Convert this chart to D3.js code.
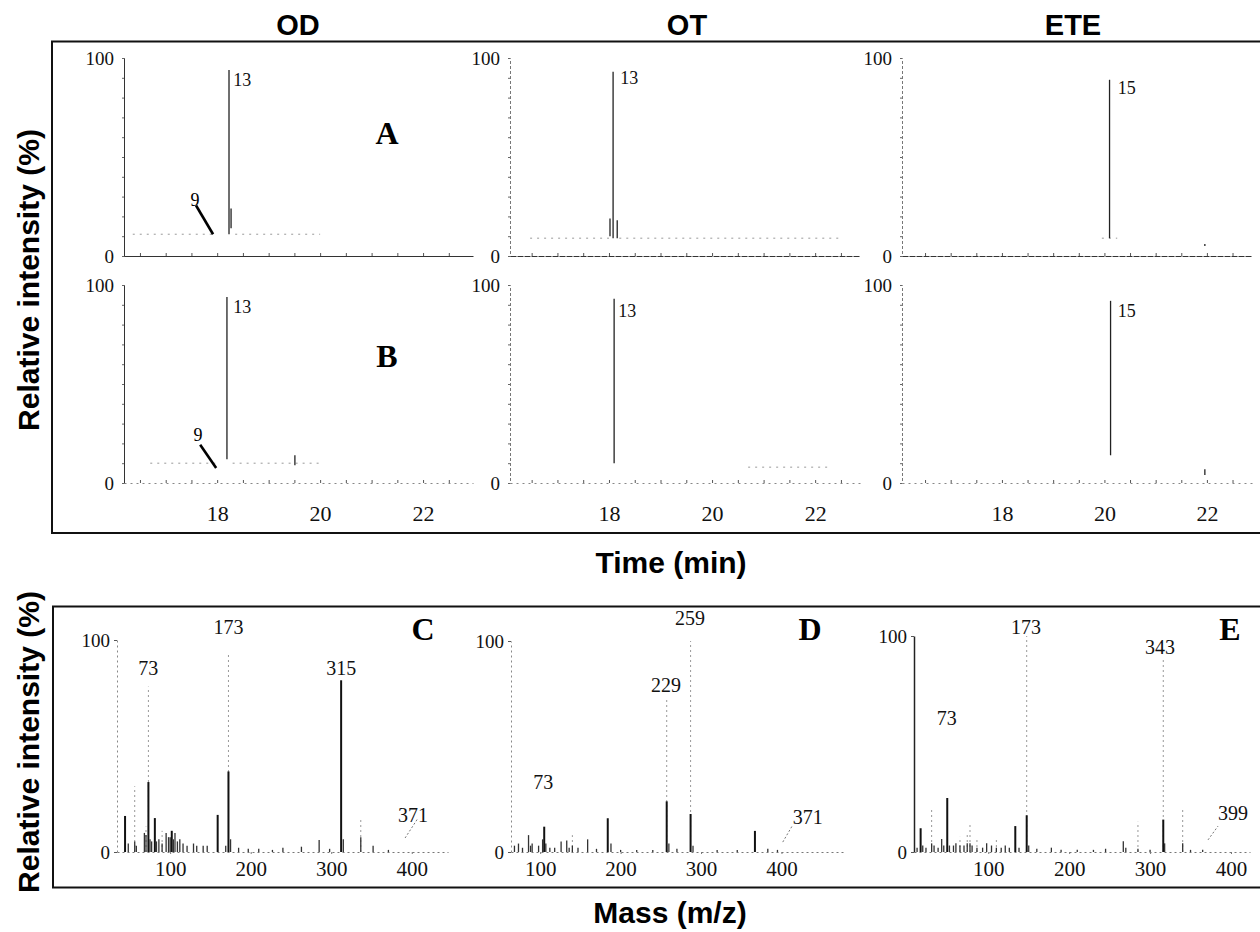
<!DOCTYPE html>
<html><head><meta charset="utf-8">
<script src="https://cdn.jsdelivr.net/npm/d3@7"></script>
<style>
body{margin:0;background:#fff;}
svg{display:block;background:#fff;}
</style></head><body><svg id="c" width="1260" height="932"></svg>
<script>
// ---------------- DATA ----------------
const columnTitles = ["OD", "OT", "ETE"];
const rowLetters = ["A", "B"];
const spectrumLetters = ["C", "D", "E"];
const timeTickLabels = [18, 20, 22];
const timeMinorTicks = [16.5, 17, 17.5, 18, 18.5, 19, 19.5, 20, 20.5, 21, 21.5, 22, 22.5];
const massTickLabels = [100, 200, 300, 400];
const intensityTickLabels = [0, 100];

// chromatogram peaks: [time (min), top %, base %]
const odA_peaks = [[18.23, 94, 11], [18.27, 24, 14]];
const odB_peaks = [[18.19, 94, 12], [19.51, 14, 9]];
const otA_peaks = [[18.08, 93, 9], [18.02, 19, 10], [18.16, 18, 9]];
const otB_peaks = [[18.10, 93, 10]];
const eteA_peaks = [[20.10, 89, 9], [21.96, 6, 5]];
const eteB_peaks = [[20.12, 92, 14], [21.96, 7, 4]];

// faint raised baselines: [start time, end time, %]
const odA_base = [[16.36, 17.95, 11], [18.35, 20.0, 11]];
const odB_base = [[16.70, 18.05, 10], [18.30, 20.0, 10]];
const otA_base = [[16.47, 18.0, 9], [18.2, 22.49, 9]];
const otB_base = [[20.70, 22.24, 8]];
const eteA_base = [[19.95, 20.25, 9]];
const eteB_base = [];

// chromatogram peak labels: [time, %, text]
const odA_labels = [[18.31, 89, "13"]];
const odB_labels = [[18.31, 89, "13"]];
const otA_labels = [[18.22, 90, "13"]];
const otB_labels = [[18.18, 87, "13"]];
const eteA_labels = [[20.26, 85, "15"]];
const eteB_labels = [[20.26, 87, "15"]];

// "9" arrows: [label t, label %, from t, from %, to t, to %]
const odA_arrow = [17.57, 28.3, 17.59, 25.5, 17.92, 11];
const odB_arrow = [17.63, 24.4, 17.67, 19.3, 17.98, 7.6];

// mass spectra peaks: [m/z, solid %, faint %]
const specC = [[44,17,0],[48,4,0],[56,5,31],[58,3,0],[68,9,0],[70,8,12],[73,33,78],[75,6,0],[77,5,0],
  [81,16,0],[83,5,0],[86,6,0],[90,4,10],[95,9,0],[98,7,0],[100,7,0],[102,10,0],[104,6,0],[106,9,0],
  [109,5,0],[112,6,0],[116,4,0],[121,3,0],[129,4,0],[133,3,0],[141,3,0],[146,3,0],[159,17.5,0],
  [169,3,0],[172.4,38,94],[175,6,0],[185,2,0],[197,1.5,0],[210,1.5,0],[227,1,0],[240,2,0],[263,2.5,0],
  [285,5.7,0],[298,1.5,0],[312.3,81,81],[315,6,0],[336.7,7,16],[352,3,0],[371,1,0]];
const specD = [[68,3,0],[73,4,0],[78,2,0],[85.5,8,0],[88,3,0],[90,4,0],[98,3,0],[103,6,0],[105,12,0],
  [107,4,0],[112,2,0],[118,2,0],[126,5,0],[133,5.5,0],[136,2,0],[140,3,8],[147,2,0],[159,6,0],[170,1.5,0],
  [184,16,0],[188,4,0],[200,1,0],[220,1,0],[240,1,0],[257.3,24,73],[260,4,0],[270,1.5,0],[287,18,100],
  [290,3,0],[320,1,0],[345,1,0],[367,10,0],[383,1.5,0],[395,1,0]];
const specE = [[12,2,0],[16.4,11,0],[19,3,0],[23,2,0],[30,4,19.5],[33,3,0],[38,2,0],[42.4,6,0],[45,3,0],
  [49.3,25,25],[52,3,0],[57,3,0],[60,4,0],[65,3,7],[70,3,0],[74,4,8],[77.4,4,13],[80,3,0],[86,2,6],
  [93,2,0],[98,4,0],[104,3,0],[110,2,6],[116,2,0],[121,3,0],[126,2,0],[133.4,12,0],[138,2,0],
  [147.5,17,100],[150,3,0],[160,1.5,0],[178,2,0],[190,1,0],[210,1,0],[230,1,0],[245,1.5,0],[266.9,5,0],
  [270,2,0],[285,1.5,14],[300,1,0],[316.3,15,90],[318,4,0],[340.3,4,20],[350,1,0],[365,1,0]];

// spectra labels: [m/z, %, text]
const specC_labels = [[72.7, 87, "73"], [172.4, 106, "173"], [312.3, 87, "315"], [401.6, 17.5, "371"]];
const specD_labels = [[103.8, 33, "73"], [256.4, 79, "229"], [286.2, 111, "259"], [432.6, 16.6, "371"]];
const specE_labels = [[48.6, 62, "73"], [146.6, 104, "173"], [312.2, 95, "343"], [402.5, 18, "399"]];
// leader lines: [from m/z, from %, to m/z, to %]
const specC_leader = [391.7, 6.6, 407.8, 16];
const specD_leader = [401.6, 4.7, 414.0, 12.8];
const specE_leader = [371.6, 5.6, 384.0, 12];

// ---------------- LAYOUT ----------------
const svg = d3.select("#c");
const SERIF = "'Liberation Serif','Times New Roman',serif";
const SANS = "'Liberation Sans',Arial,sans-serif";

svg.append("rect").attr("x", 52).attr("y", 41.5).attr("width", 1220).attr("height", 491.5)
  .attr("fill", "none").attr("stroke", "#111").attr("stroke-width", 2);
svg.append("rect").attr("x", 53).attr("y", 606.5).attr("width", 1220).attr("height", 281)
  .attr("fill", "none").attr("stroke", "#111").attr("stroke-width", 2);

const titleX = [298, 687, 1073];
columnTitles.forEach((t, i) => svg.append("text").attr("x", titleX[i]).attr("y", 25)
  .attr("text-anchor", "middle").attr("dominant-baseline", "central")
  .attr("font-family", SANS).attr("font-weight", "bold").attr("font-size", 29).text(t));

function bigLabel(txt, x, y, rot) {
  svg.append("text").attr("transform", `translate(${x},${y})` + (rot ? " rotate(-90)" : ""))
    .attr("text-anchor", "middle").attr("dominant-baseline", "central")
    .attr("font-family", SANS).attr("font-weight", "bold").attr("font-size", 30).text(txt);
}
bigLabel("Relative intensity (%)", 28, 280, true);
bigLabel("Relative intensity (%)", 28, 742, true);
bigLabel("Time (min)", 671, 562, false);
bigLabel("Mass (m/z)", 670, 912, false);

// ---------------- CHROMATOGRAMS ----------------
const chromCols = [
  {xr: [124, 473], dom: [16.19, 22.97], dashed: false},
  {xr: [510, 860], dom: [16.08, 22.87], dashed: true},
  {xr: [902, 1252], dom: [16.05, 22.88], dashed: true}
];
const chromRows = [{yr: [256, 58]}, {yr: [483, 285]}];
const chromData = [
  [{peaks: odA_peaks, base: odA_base, labels: odA_labels, arrow: odA_arrow},
   {peaks: odB_peaks, base: odB_base, labels: odB_labels, arrow: odB_arrow}],
  [{peaks: otA_peaks, base: otA_base, labels: otA_labels},
   {peaks: otB_peaks, base: otB_base, labels: otB_labels}],
  [{peaks: eteA_peaks, base: eteA_base, labels: eteA_labels},
   {peaks: eteB_peaks, base: eteB_base, labels: eteB_labels}]
];

chromCols.forEach((col, ci) => {
  chromRows.forEach((row, ri) => {
    const d = chromData[ci][ri];
    const x = d3.scaleLinear().domain(col.dom).range(col.xr);
    const y = d3.scaleLinear().domain([0, 100]).range(row.yr);
    const g = svg.append("g");

    // y axis
    const ya = g.append("g").attr("transform", `translate(${col.xr[0]},0)`)
      .call(d3.axisLeft(y).tickValues([0, 10, 20, 30, 40, 50, 60, 70, 80, 90, 100]).tickSize(2).tickPadding(8)
        .tickFormat(v => intensityTickLabels.includes(v) ? v : ""));
    ya.select(".domain").attr("stroke", col.dashed ? "#777" : "#333").attr("stroke-width", 1)
      .attr("stroke-dasharray", col.dashed ? "3,2" : null);
    ya.selectAll(".tick line").attr("stroke", "#666");
    ya.selectAll("text").attr("font-family", SERIF).attr("font-size", 19).attr("fill", "#111");

    // x axis
    const xa = g.append("g").attr("transform", `translate(0,${row.yr[0]})`)
      .call(d3.axisBottom(x).tickValues(timeMinorTicks).tickSize(-3).tickSizeOuter(0)
        .tickFormat(v => (ri === 1 && timeTickLabels.includes(v)) ? v : ""));
    xa.select(".domain").attr("stroke", ri === 0 ? "#333" : "#888").attr("stroke-width", 1)
      .attr("stroke-dasharray", ri === 0 ? (ci === 0 ? null : "6,1") : "2,4");
    xa.selectAll(".tick line").attr("stroke", "#555");
    xa.selectAll("text").attr("font-family", SERIF).attr("font-size", 22).attr("fill", "#111")
      .attr("y", 22).attr("dy", "0.71em");

    // faint baselines
    d.base.forEach(b => g.append("line")
      .attr("x1", x(b[0])).attr("x2", x(b[1])).attr("y1", y(b[2])).attr("y2", y(b[2]))
      .attr("stroke", "#999").attr("stroke-width", 1).attr("stroke-dasharray", "2,5"));

    // peaks
    g.selectAll("line.pk").data(d.peaks).join("line").attr("class", "pk")
      .attr("x1", p => x(p[0])).attr("x2", p => x(p[0]))
      .attr("y1", p => y(p[1])).attr("y2", p => y(p[2]))
      .attr("stroke", "#222").attr("stroke-width", 1.3);

    // labels
    g.selectAll("text.pl").data(d.labels).join("text").attr("class", "pl")
      .attr("x", l => x(l[0])).attr("y", l => y(l[1])).attr("dy", "0.35em")
      .attr("font-family", SERIF).attr("font-size", 18).attr("fill", "#111").text(l => l[2]);

    if (d.arrow) {
      const a = d.arrow;
      g.append("text").attr("x", x(a[0])).attr("y", y(a[1])).attr("text-anchor", "middle")
        .attr("dominant-baseline", "central")
        .attr("font-family", SERIF).attr("font-size", 18).text("9");
      g.append("line").attr("x1", x(a[2])).attr("y1", y(a[3])).attr("x2", x(a[4])).attr("y2", y(a[5]))
        .attr("stroke", "#000").attr("stroke-width", 2.6);
    }

    if (ci === 0) {
      g.append("text").attr("x", x(21.3)).attr("y", y(ri === 0 ? 62 : 64))
        .attr("text-anchor", "middle").attr("dominant-baseline", "central")
        .attr("font-family", SERIF).attr("font-weight", "bold").attr("font-size", 32)
        .text(rowLetters[ri]);
    }
  });
});

// ---------------- MASS SPECTRA ----------------
const specPanels = [
  {xr: [117, 448], dom: [34, 445], yr: [852, 640], data: specC, labels: specC_labels, leader: specC_leader, letterX: 423, axisDark: false},
  {xr: [511, 843], dom: [63.7, 476.5], yr: [852, 641], data: specD, labels: specD_labels, leader: specD_leader, letterX: 810, axisDark: false},
  {xr: [914, 1250], dom: [8.2, 423.5], yr: [852, 636], data: specE, labels: specE_labels, leader: specE_leader, letterX: 1230, axisDark: true}
];

specPanels.forEach((p, i) => {
  const x = d3.scaleLinear().domain(p.dom).range(p.xr);
  const y = d3.scaleLinear().domain([0, 100]).range(p.yr);
  const g = svg.append("g");

  const ya = g.append("g").attr("transform", `translate(${p.xr[0]},0)`)
    .call(d3.axisLeft(y).tickValues(intensityTickLabels).tickSize(3).tickPadding(4).tickSizeOuter(0));
  ya.select(".domain").attr("stroke", p.axisDark ? "#222" : "#888")
    .attr("stroke-width", p.axisDark ? 1.5 : 1).attr("stroke-dasharray", p.axisDark ? null : "2,3");
  ya.selectAll(".tick line").attr("stroke", "#555");
  ya.selectAll("text").attr("font-family", SERIF).attr("font-size", 19).attr("fill", "#111");

  const xa = g.append("g").attr("transform", `translate(0,${p.yr[0]})`)
    .call(d3.axisBottom(x).tickValues(massTickLabels).tickSize(2).tickPadding(7).tickSizeOuter(0));
  xa.select(".domain").attr("stroke", "#777").attr("stroke-dasharray", "2,3");
  xa.selectAll(".tick line").attr("stroke", "#777");
  xa.selectAll("text").attr("font-family", SERIF).attr("font-size", 21).attr("fill", "#111");

  // faint upper parts
  g.selectAll("line.fp").data(p.data.filter(d => d[2] > d[1])).join("line").attr("class", "fp")
    .attr("x1", d => x(d[0])).attr("x2", d => x(d[0]))
    .attr("y1", y(0)).attr("y2", d => y(d[2]))
    .attr("stroke", "#999").attr("stroke-width", 1).attr("stroke-dasharray", "2,3");
  // solid parts
  g.selectAll("line.sp").data(p.data).join("line").attr("class", "sp")
    .attr("x1", d => x(d[0])).attr("x2", d => x(d[0]))
    .attr("y1", y(0)).attr("y2", d => y(d[1]))
    .attr("stroke", d => d[1] >= 10 ? "#111" : "#333").attr("stroke-width", d => d[1] >= 10 ? 2 : 1.3);

  g.selectAll("text.ml").data(p.labels).join("text").attr("class", "ml")
    .attr("x", d => x(d[0])).attr("y", d => y(d[1])).attr("text-anchor", "middle")
    .attr("dominant-baseline", "central")
    .attr("font-family", SERIF).attr("font-size", 20).attr("fill", "#111").text(d => d[2]);

  const L = p.leader;
  g.append("line").attr("x1", x(L[0])).attr("y1", y(L[1])).attr("x2", x(L[2])).attr("y2", y(L[3]))
    .attr("stroke", "#777").attr("stroke-width", 1).attr("stroke-dasharray", "2,2");

  g.append("text").attr("x", p.letterX).attr("y", 629).attr("text-anchor", "middle")
    .attr("dominant-baseline", "central")
    .attr("font-family", SERIF).attr("font-weight", "bold").attr("font-size", 32).text(spectrumLetters[i]);
});
</script></body></html>
